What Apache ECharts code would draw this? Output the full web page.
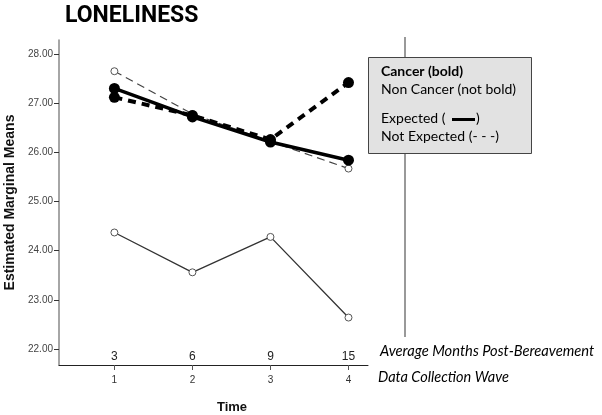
<!DOCTYPE html>
<html>
<head>
<meta charset="utf-8">
<script src="https://cdn.jsdelivr.net/npm/echarts@6/dist/echarts.min.js"></script>
<style>html,body{margin:0;padding:0;background:#fff}#c{width:602px;height:415px}</style>
</head>
<body>
<div id="c"></div>
<script>
// ---- data ----
const waves = [1, 2, 3, 4];
const months = ['3', '6', '9', '15'];
const yTicks = [22, 23, 24, 25, 26, 27, 28];
const cancerExpected = [27.30, 26.72, 26.21, 25.84];
const cancerNotExpected = [27.12, 26.75, 26.26, 27.42];
const nonCancerExpected = [24.37, 23.56, 24.28, 22.64];
const nonCancerNotExpected = [27.65, 26.78, 26.22, 25.67];

const pairs = vals => waves.map((w, i) => [w, vals[i]]);
const chart = echarts.init(document.getElementById('c'), null, { renderer: 'canvas' });

const axisFont = 'Liberation Sans, Arial, sans-serif';

chart.setOption({
  animation: false,
  backgroundColor: '#ffffff',
  title: {
    text: 'LONELINESS', left: 60, top: 0,
    textStyle: { fontFamily: 'Roboto, sans-serif', fontWeight: 'bold', fontSize: 23, color: '#000' }
  },
  grid: { left: 59, right: 234, top: 40, bottom: 50, containLabel: false, outerBoundsMode: 'none' },
  xAxis: [{
    type: 'value', min: 0.29, max: 4.25,
    splitLine: { show: false },
    axisLine: { show: true, onZero: false, lineStyle: { color: '#222', width: 1 } },
    axisTick: { show: true, customValues: waves, length: 5, lineStyle: { color: '#555' } },
    axisLabel: { customValues: waves, margin: 10, fontFamily: axisFont, fontSize: 10, color: '#333' },
    name: 'Time', nameLocation: 'middle', nameGap: 36,
    nameTextStyle: { fontFamily: axisFont, fontWeight: 'bold', fontSize: 13, color: '#111', padding: [0, 0, 0, 37] }
  }, {
    type: 'value', min: 0.29, max: 4.25, position: 'bottom',
    splitLine: { show: false },
    axisLine: { show: false }, axisTick: { show: false },
    axisLabel: {
      inside: true, margin: 2, customValues: waves,
      formatter: v => months[waves.indexOf(v)],
      fontFamily: axisFont, fontSize: 12, color: '#222'
    }
  }],
  yAxis: {
    type: 'value', min: 21.675, max: 28.285,
    splitLine: { show: false },
    axisLine: { show: true, onZero: false, lineStyle: { color: '#888', width: 1.5 } },
    axisTick: { show: true, customValues: yTicks, length: 5, lineStyle: { color: '#333' } },
    axisLabel: { customValues: yTicks, formatter: v => v.toFixed(2), margin: 6, fontFamily: axisFont, fontSize: 10, color: '#444' },
    name: 'Estimated Marginal Means', nameLocation: 'middle', nameGap: 42, nameRotate: 90,
    nameTextStyle: { fontFamily: axisFont, fontWeight: 'bold', fontSize: 14, color: '#111' }
  },
  series: [
    {
      name: 'Non Cancer Not Expected', type: 'line', data: pairs(nonCancerNotExpected),
      symbol: 'circle', symbolSize: 7,
      itemStyle: { color: '#fff', borderColor: '#555', borderWidth: 1 },
      lineStyle: { color: '#444', width: 1.2, type: [8, 5] }, z: 2
    },
    {
      name: 'Non Cancer Expected', type: 'line', data: pairs(nonCancerExpected),
      symbol: 'circle', symbolSize: 7,
      itemStyle: { color: '#fff', borderColor: '#555', borderWidth: 1 },
      lineStyle: { color: '#333', width: 1.3 }, z: 2
    },
    {
      name: 'Cancer Not Expected', type: 'line', data: pairs(cancerNotExpected),
      symbol: 'circle', symbolSize: 11,
      itemStyle: { color: '#000' },
      lineStyle: { color: '#000', width: 4, type: [8, 6] }, z: 3
    },
    {
      name: 'Cancer Expected', type: 'line', data: pairs(cancerExpected),
      symbol: 'circle', symbolSize: 11,
      itemStyle: { color: '#000' },
      lineStyle: { color: '#000', width: 3.5 }, z: 4
    }
  ],
  graphic: [
    { type: 'line', z: 1, shape: { x1: 405, y1: 37, x2: 405, y2: 337 }, style: { stroke: '#777', lineWidth: 1.5 } },
    { type: 'rect', z: 5, shape: { x: 368.5, y: 57.5, width: 163, height: 96 }, style: { fill: '#e2e2e2', stroke: '#444', lineWidth: 1 } },
    { type: 'text', z: 6, left: 381, top: 64, style: { text: 'Cancer (bold)', font: 'bold 14px Lato, sans-serif', fill: '#000' } },
    { type: 'text', z: 6, left: 381, top: 82, style: { text: 'Non Cancer (not bold)', font: '14px Lato, sans-serif', fill: '#000' } },
    { type: 'text', z: 6, left: 381, top: 111, style: { text: 'Expected (', font: '14px Lato, sans-serif', fill: '#000' } },
    { type: 'line', z: 6, shape: { x1: 452, y1: 119.5, x2: 475, y2: 119.5 }, style: { stroke: '#000', lineWidth: 3 } },
    { type: 'text', z: 6, left: 476, top: 111, style: { text: ')', font: '14px Lato, sans-serif', fill: '#000' } },
    { type: 'text', z: 6, left: 381, top: 129, style: { text: 'Not Expected (- - -)', font: '14px Lato, sans-serif', fill: '#000' } },
    { type: 'text', z: 6, left: 380, top: 344, style: { text: 'Average Months Post-Bereavement', font: 'italic 14.7px Lato, sans-serif', fill: '#000' } },
    { type: 'text', z: 6, left: 378, top: 370, style: { text: 'Data Collection Wave', font: 'italic 14.5px Lato, sans-serif', fill: '#000' } }
  ]
});
</script>
</body>
</html>
